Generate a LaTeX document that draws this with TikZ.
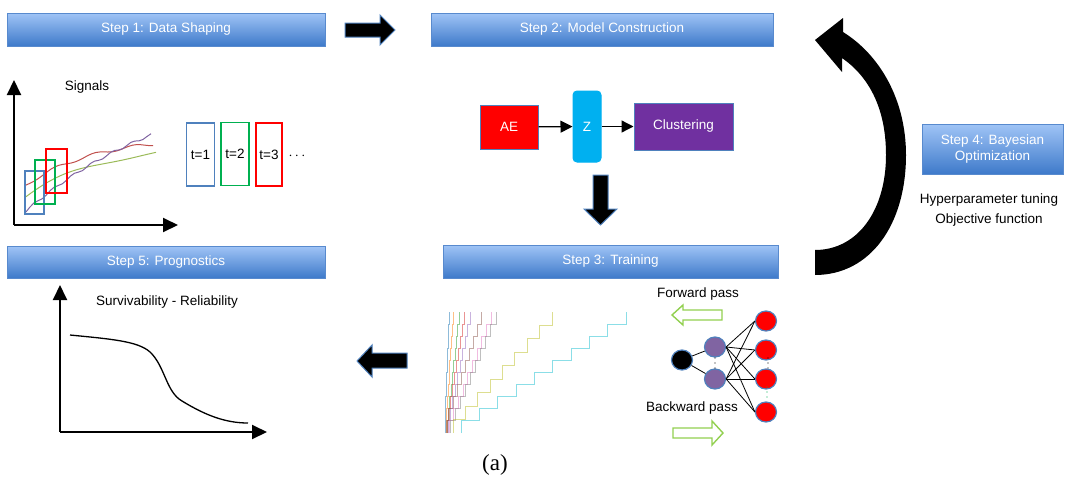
\documentclass[tikz,border=0pt]{standalone}
\usepackage{fontspec}
\setmainfont{Liberation Sans}
\newfontfamily\capfont{Liberation Serif}
\usetikzlibrary{arrows.meta,shapes.geometric,shadows}
\definecolor{stepTop}{RGB}{160,196,246}
\definecolor{stepBot}{RGB}{62,122,202}
\definecolor{stepEdge}{RGB}{88,138,206}
\definecolor{bblue}{RGB}{79,129,189}
\definecolor{okgreen}{RGB}{0,176,80}
\definecolor{sigpurple}{RGB}{128,100,162}
\definecolor{sigred}{RGB}{192,80,77}
\definecolor{siggreen}{RGB}{155,187,89}
\definecolor{zcyan}{RGB}{0,176,240}
\definecolor{clpurple}{RGB}{112,48,160}
\definecolor{nnpurple}{RGB}{128,100,162}
\definecolor{arrgreen}{RGB}{146,208,80}
\definecolor{tabblue}{RGB}{31,119,180}
\definecolor{taborange}{RGB}{255,127,14}
\definecolor{tabgreen}{RGB}{44,160,44}
\definecolor{tabred}{RGB}{214,39,40}
\definecolor{tabpurple}{RGB}{148,103,189}
\definecolor{tabbrown}{RGB}{140,86,75}
\definecolor{tabpink}{RGB}{227,119,194}
\definecolor{tabgray}{RGB}{127,127,127}
\definecolor{tabolive}{RGB}{188,189,34}
\definecolor{tabcyan}{RGB}{23,190,207}
\tikzset{
  txt/.style={font=\fontsize{13.5}{15.5}\selectfont},
  stepbox/.style={draw=stepEdge, line width=0.8pt, top color=stepTop, bottom color=stepBot,
    text=white, align=center, font=\fontsize{13.5}{16}\selectfont,
    drop shadow={opacity=0.25, shadow xshift=1pt, shadow yshift=-1.2pt}},
  blockarrow/.style={fill=black, draw=bblue, line width=1pt, line join=miter},
  axis/.style={line width=2pt, -{Triangle[length=15pt,width=14pt]}},
  tbox/.style={line width=1.6pt, minimum width=28pt, minimum height=63pt, inner sep=0pt, txt},
  win/.style={line width=1.6pt},
  mbox/.style={draw=bblue, line width=1pt, text=white, inner sep=0pt, txt},
  conn/.style={line width=1.3pt, -{Triangle[length=12pt,width=12pt]}},
  neuron/.style={ellipse, draw=bblue, line width=1.2pt, minimum width=21pt, minimum height=20pt, inner sep=0pt},
  nnedge/.style={line width=0.8pt},
  hollow/.style={draw=arrgreen, fill=white, line width=1.4pt, line join=miter},
  stair/.style={line width=1pt, opacity=0.5},
}
\begin{document}
\begin{tikzpicture}[x=1pt,y=-1pt]
\useasboundingbox (0,0) rectangle (1066,477);

% step boxes
\node[stepbox, minimum width=318pt, minimum height=33pt] (s1) at (166,29.5) {Step 1: Data Shaping};
\node[stepbox, minimum width=342pt, minimum height=33pt] (s2) at (602,29.5) {Step 2: Model Construction};
\node[stepbox, minimum width=335pt, minimum height=33pt] (s3) at (610.5,261.5) {Step 3: Training};
\node[stepbox, minimum width=141pt, minimum height=50pt] (s4) at (992.5,149) {Step 4: Bayesian\\Optimization};
\node[stepbox, minimum width=318pt, minimum height=32pt] (s5) at (166,262) {Step 5: Prognostics};

% block arrows
\draw[blockarrow] (345,23) -- (380,23) -- (380,15) -- (395,30) -- (380,45) -- (380,37) -- (345,37) -- cycle;
\draw[blockarrow] (593,175) -- (608,175) -- (608,209) -- (617,209) -- (600.5,225) -- (584,209) -- (593,209) -- cycle;
\draw[blockarrow] (407,353) -- (372,353) -- (372,345) -- (357,361) -- (372,377) -- (372,368) -- (407,368) -- cycle;

% big curved arrow
\fill[black] (815,40) -- (843,18) -- (843,32)
  .. controls (880,55) and (906,100) .. (906,155)
  .. controls (906,225) and (870,275) .. (815,275)
  -- (815,250)
  .. controls (858,250) and (886,210) .. (886,155)
  .. controls (886,107) and (868,76) .. (842,58)
  -- (842,72) -- cycle;

% step 4 texts
\node[txt] (hp) at (989,200) {Hyperparameter tuning};
\node[txt] (of) at (989,220) {Objective function};

% step 1 plot
\coordinate (o1) at (14,225);
\coordinate (y1) at (14,80);
\coordinate (x1) at (178,225);
\draw[axis] (o1) -- (y1);
\draw[axis] (o1) -- (x1);
\node[txt] (sig) at (87,87) {Signals};
\draw[sigred, line width=1pt] plot[domain=26:153, samples=32]
  (\x, {185 - 41*(1-exp(-(\x-26)/70))/(1-exp(-127/70)) + 1.6*sin(\x*97)});
\draw[siggreen, line width=1pt] plot[domain=26:156, samples=32]
  (\x, {196 - 43*(1-exp(-(\x-26)/80))/(1-exp(-130/80)) + 1.6*sin(\x*89)});
\draw[sigpurple, line width=1pt] plot[domain=26:151, samples=32]
  (\x, {211 - 76*(1-exp(-(\x-26)/160))/(1-exp(-125/160)) + 1.3*sin(\x*71)});
\draw[win, bblue] (25,171) rectangle (44,214);
\draw[win, okgreen] (35,160) rectangle (55,204);
\draw[win, red] (46,149) rectangle (67,193);
\node[tbox, draw=bblue] (t1) at (200.5,154.5) {t=1};
\node[tbox, draw=okgreen] (t2) at (235,154) {t=2};
\node[tbox, draw=red, minimum width=26pt] (t3) at (269,154.5) {t=3};
\node[txt] (dots) at (297,156) {$\cdots$};

% step 2 model
\node[mbox, fill=red, minimum width=58pt, minimum height=44pt] (ae) at (509,127) {AE};
\node[mbox, draw=zcyan, fill=zcyan, rounded corners=4pt, minimum width=28pt, minimum height=71pt] (z) at (587,126.5) {Z};
\node[mbox, fill=clpurple, minimum width=99pt, minimum height=47pt] (cl) at (683.5,126.5) {Clustering};
\draw[conn] (ae) -- (z);
\draw[conn] (z) -- (cl);

% step 3 stairs
\foreach \xa/\xb/\n/\c in {445/449/9/tabblue, 446/453/9/taborange, 447/459/9/tabgreen, 447/464/9/tabred,
  448/470/9/tabpurple, 446/481/9/tabbrown, 449/491/9/tabpink, 450/496/9/tabgray,
  453/552/8/tabolive, 461/626/9/tabcyan} {
  \pgfmathsetmacro\w{(\xb-\xa)/\n}
  \pgfmathsetmacro\h{121/(\n+1)}
  \draw[stair, \c] (\xa,433) \foreach \k in {1,...,\n}{ -- ++(0,-\h) -- ++(\w,0) } -- ++(0,-\h);
}

% neural net
\node[txt] (fw) at (698,294) {Forward pass};
\node[txt] (bw) at (692,408) {Backward pass};
\draw[hollow] (672,315) -- (683,305) -- (683,310) -- (722,310) -- (722,320) -- (683,320) -- (683,325) -- cycle;
\draw[hollow] (723,433) -- (712,421) -- (712,428) -- (673,428) -- (673,438) -- (712,438) -- (712,445) -- cycle;
\node[neuron, fill=black] (n0) at (682,360) {};
\node[neuron, fill=nnpurple] (h1) at (715,347) {};
\node[neuron, fill=nnpurple] (h2) at (715,379) {};
\node[neuron, fill=red] (r1) at (766,321) {};
\node[neuron, fill=red] (r2) at (766,350) {};
\node[neuron, fill=red] (r3) at (766,379) {};
\node[neuron, fill=red] (r4) at (766,412) {};
\draw[nnedge] (n0) -- (h1);
\draw[nnedge] (n0) -- (h2);
\foreach \h in {h1,h2}{
  \foreach \r in {r1,r2,r3,r4}{
    \draw[nnedge] (\h.east) -- (\r.west);
  }
}
\foreach \yy in {358,363,368} {
  \fill (715,\yy) circle (0.7pt);
  \fill (768,\yy) circle (0.7pt);
  \fill[okgreen] (767,\yy+29) circle (0.7pt);
}

% step 5 plot
\coordinate (o5) at (60,432);
\coordinate (y5) at (60,285);
\coordinate (x5) at (267,432);
\draw[axis] (o5) -- (y5);
\draw[axis] (o5) -- (x5);
\node[txt] (sr) at (167,302) {Survivability - Reliability};
\draw[line width=1.3pt] (70,335) .. controls (110,339) and (138,341) .. (150,352)
  .. controls (165,366) and (166,392) .. (182,401)
  .. controls (205,415) and (225,423) .. (248,423);

% caption
\node[font=\capfont\fontsize{23}{26}\selectfont] (cap) at (495,465) {(a)};
\end{tikzpicture}
\end{document}
